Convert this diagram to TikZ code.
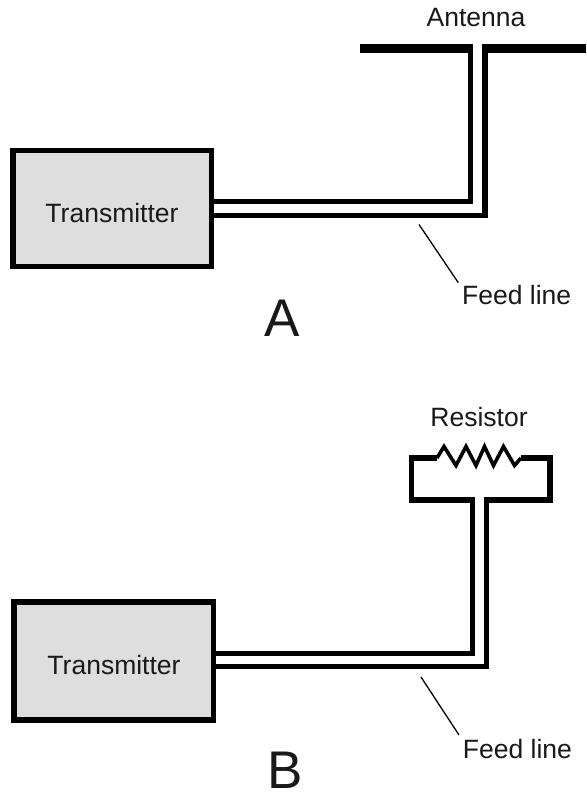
\documentclass[tikz,border=0pt]{standalone}
\usepackage{fontspec}
\setmainfont{Liberation Sans}
\tikzset{
  px/.style={x=1pt,y=-1pt},
  txbox/.style={draw=black,fill=boxgray,line width=5.5pt,rectangle,inner sep=0pt},
  feed/.style={draw=black,line width=5.5pt,miter limit=10},
  antbar/.style={draw=black,line width=8.5pt},
  leader/.style={draw=black,line width=1.3pt},
  lbl/.style={inner sep=0pt,anchor=base,font=\fontsize{26.5}{30}\selectfont,text=black!90},
  biglbl/.style={inner sep=0pt,anchor=base,font=\fontsize{53}{60}\selectfont,text=black!90},
  res/.style={draw=black,line width=3.6pt,line join=miter,miter limit=10}
}
\definecolor{boxgray}{HTML}{DEDEDE}
\begin{document}
\begin{tikzpicture}[px]
\useasboundingbox (0,0) rectangle (586,792);
\fill[white] (0,0) rectangle (586,792);
% --- A
\node[txbox,minimum width=198.5pt,minimum height=116pt] (txA) at (112,208.5) {};
\node[lbl] (txtA) at (112,222) {Transmitter};
\coordinate (a1) at (210,201.5);
\coordinate (a2) at (470.5,201.5);
\coordinate (a3) at (470.5,46);
\coordinate (b1) at (210,215.5);
\coordinate (b2) at (485,215.5);
\coordinate (b3) at (485,46);
\draw[feed] (a1) -- (a2) -- (a3);
\draw[feed] (b1) -- (b2) -- (b3);
\coordinate (antL) at (360,48.3);
\coordinate (antLe) at (473.3,48.3);
\coordinate (antRs) at (482.3,48.3);
\coordinate (antR) at (586,48.3);
\draw[antbar] (antL) -- (antLe);
\draw[antbar] (antRs) -- (antR);
\node[lbl] (antenna) at (476,27) {Antenna};
\node[lbl] (feedA) at (516.7,304) {Feed line};
\coordinate (la) at (419,224.5);
\coordinate (lb) at (458.3,282.7);
\draw[leader] (la) -- (lb);
\node[biglbl] (A) at (282,336) {A};
% --- B
\node[txbox,minimum width=199.5pt,minimum height=118pt] (txB) at (113.5,661) {};
\node[lbl] (txtB) at (114,674) {Transmitter};
\coordinate (c1) at (212,653.3);
\coordinate (c2) at (472.5,653.3);
\coordinate (c3) at (472.5,500);
\coordinate (d1) at (212,666.7);
\coordinate (d2) at (486.7,666.7);
\coordinate (d3) at (486.7,500);
\draw[feed] (c1) -- (c2) -- (c3);
\draw[feed] (d1) -- (d2) -- (d3);
\coordinate (r0) at (475,500);
\coordinate (r1) at (411.3,500);
\coordinate (r2) at (411.3,458);
\coordinate (r3) at (437,458);
\coordinate (r4) at (484,500);
\coordinate (r5) at (550,500);
\coordinate (r6) at (550,458);
\coordinate (r7) at (521,458);
\draw[feed] (r0) -- (r1) -- (r2) -- (r3);
\draw[feed] (r4) -- (r5) -- (r6) -- (r7);
\draw[res] (r3) -- (444,446.5) -- (456,465.5) -- (466,446.5) -- (476,465.5) -- (484.5,446.5) -- (493.5,465.5) -- (503.5,446.5) -- (514.5,465.5) -- (r7);
\node[lbl] (resistor) at (479,426.5) {Resistor};
\node[lbl] (feedB) at (517.5,758) {Feed line};
\coordinate (lc) at (421,677);
\coordinate (ld) at (459,735);
\draw[leader] (lc) -- (ld);
\node[biglbl] (B) at (285,788.5) {B};
\end{tikzpicture}
\end{document}
